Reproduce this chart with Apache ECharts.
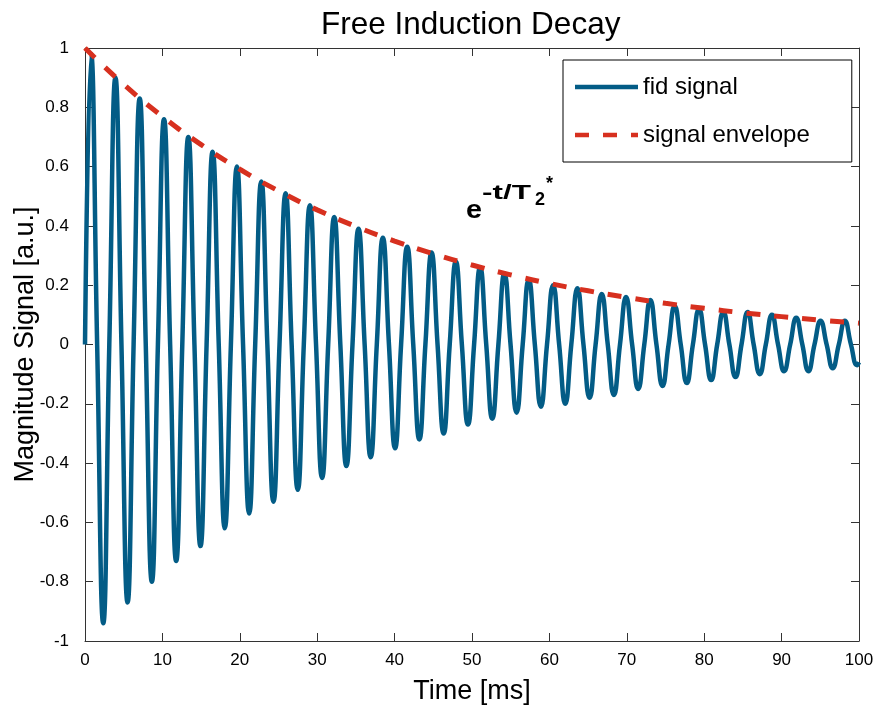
<!DOCTYPE html>
<html>
<head>
<meta charset="utf-8">
<script src="https://cdn.jsdelivr.net/npm/echarts@6/dist/echarts.min.js"></script>
<style>
html,body{margin:0;padding:0;background:#fff;}
#chart{width:877px;height:713px;}
</style>
</head>
<body>
<div id="chart"></div>
<script>
// ---- data ----
const fidTime = [
  0, 0.79, 1.57, 2.36,
  3.14, 3.93, 4.71, 5.50,
  6.28, 7.07, 7.85, 8.64,
  9.42, 10.21, 11.00, 11.78,
  12.57, 13.35, 14.14, 14.92,
  15.71, 16.49, 17.28, 18.06,
  18.85, 19.63, 20.42, 21.21,
  21.99, 22.78, 23.56, 24.35,
  25.13, 25.92, 26.70, 27.49,
  28.27, 29.06, 29.85, 30.63,
  31.42, 32.20, 32.99, 33.77,
  34.56, 35.34, 36.13, 36.91,
  37.70, 38.48, 39.27, 40.06,
  40.84, 41.63, 42.41, 43.20,
  43.98, 44.77, 45.55, 46.34,
  47.12, 47.91, 48.69, 49.48,
  50.27, 51.05, 51.84, 52.62,
  53.41, 54.19, 54.98, 55.76,
  56.55, 57.33, 58.12, 58.90,
  59.69, 60.48, 61.26, 62.05,
  62.83, 63.62, 64.40, 65.19,
  65.97, 66.76, 67.54, 68.33,
  69.12, 69.90, 70.69, 71.47,
  72.26, 73.04, 73.83, 74.61,
  75.40, 76.18, 76.97, 77.75,
  78.54, 79.33, 80.11, 80.90,
  81.68, 82.47, 83.25, 84.04,
  84.82, 85.61, 86.39, 87.18,
  87.96, 88.75, 89.54, 90.32,
  91.11, 91.89, 92.68, 93.46,
  94.25, 95.03, 95.82, 96.60,
  97.39, 98.17, 98.96, 99.75,
  100
];
const fidValue = [
  0, 0.98, 0, -0.94,
  0, 0.90, 0, -0.87,
  0, 0.83, 0, -0.80,
  0, 0.76, 0, -0.73,
  0, 0.70, 0, -0.68,
  0, 0.65, 0, -0.62,
  0, 0.60, 0, -0.57,
  0, 0.55, 0, -0.53,
  0, 0.51, 0, -0.49,
  0, 0.47, 0, -0.45,
  0, 0.43, 0, -0.41,
  0, 0.39, 0, -0.38,
  0, 0.36, 0, -0.35,
  0, 0.33, 0, -0.32,
  0, 0.31, 0, -0.30,
  0, 0.28, 0, -0.27,
  0, 0.26, 0, -0.25,
  0, 0.24, 0, -0.23,
  0, 0.22, 0, -0.21,
  0, 0.20, 0, -0.20,
  0, 0.19, 0, -0.18,
  0, 0.17, 0, -0.17,
  0, 0.16, 0, -0.15,
  0, 0.15, 0, -0.14,
  0, 0.13, 0, -0.13,
  0, 0.12, 0, -0.12,
  0, 0.11, 0, -0.11,
  0, 0.11, 0, -0.10,
  0, 0.10, 0, -0.09,
  0, 0.09, 0, -0.09,
  0, 0.08, 0, -0.08,
  0, 0.08, 0, -0.07,
  -0.06
];
const envTime  = [0, 5, 10, 15, 20, 25, 30, 35, 40, 45, 50, 55, 60, 65, 70, 75, 80, 85, 90, 95, 100];
const envValue = [1.00, 0.877, 0.769, 0.674, 0.591, 0.518, 0.454, 0.398, 0.349, 0.306, 0.268,
                  0.235, 0.206, 0.181, 0.159, 0.139, 0.122, 0.107, 0.094, 0.082, 0.072];
const seriesNames = ['fid signal', 'signal envelope'];
const titleText = 'Free Induction Decay';
const xName = 'Time [ms]';
const yName = 'Magnitude Signal [a.u.]';

// ---- chart ----
const FONT = '"Liberation Sans", Arial, Helvetica, sans-serif';
const BLUE = '#035c86';
const RED = '#d7301f';
const AXIS = '#333333';

const fidData = fidTime.map((t, i) => [t, fidValue[i]]);
const envData = envTime.map((t, i) => [t, envValue[i]]);

const chart = echarts.init(document.getElementById('chart'), null, {renderer: 'canvas'});

const baseX = {
  type: 'value', min: 0, max: 100, interval: 10,
  axisLine: {show: true, onZero: false, lineStyle: {color: AXIS, width: 1}},
  axisTick: {show: true, inside: true, length: 8, lineStyle: {color: AXIS}},
  splitLine: {show: false}
};
const baseY = {
  type: 'value', min: -1, max: 1, interval: 0.2,
  axisLine: {show: true, onZero: false, lineStyle: {color: AXIS, width: 1}},
  axisTick: {show: true, inside: true, length: 8, lineStyle: {color: AXIS}},
  splitLine: {show: false}
};

chart.setOption({
  animation: false,
  backgroundColor: '#ffffff',
  title: {
    text: titleText, left: 316, top: 4,
    textStyle: {fontFamily: FONT, fontSize: 31.5, fontWeight: 'normal', color: '#000'}
  },
  grid: {left: 85, right: 18, top: 48, bottom: 72, containLabel: false, outerBoundsMode: 'none'},
  legend: {
    left: 563, top: 60,
    orient: 'vertical',
    padding: [15, 42, 15, 12],
    itemGap: 24,
    itemWidth: 63, itemHeight: 4.5,
    symbolKeepAspect: false,
    backgroundColor: '#fff',
    borderColor: '#000', borderWidth: 1, borderRadius: 0,
    textStyle: {fontFamily: FONT, fontSize: 24, color: '#000'},
    data: [
      {name: seriesNames[0], icon: 'rect'},
      {name: seriesNames[1], icon: 'path://M0,0h14v5h-14zM28,0h14v5h-14zM56,0h7v5h-7z'}
    ]
  },
  xAxis: [
    Object.assign({}, baseX, {
      position: 'bottom',
      name: xName, nameLocation: 'middle', nameGap: 37,
      nameTextStyle: {fontFamily: FONT, fontSize: 27, color: '#000'},
      axisLabel: {show: true, margin: 11, fontFamily: FONT, fontSize: 17, color: '#000'}
    }),
    Object.assign({}, baseX, {position: 'top', axisLabel: {show: false}})
  ],
  yAxis: [
    Object.assign({}, baseY, {
      position: 'left',
      name: yName, nameLocation: 'middle', nameGap: 46, nameMoveOverlap: false,
      nameTextStyle: {fontFamily: FONT, fontSize: 27, color: '#000'},
      axisLabel: {show: true, margin: 16, fontFamily: FONT, fontSize: 17, color: '#000'}
    }),
    Object.assign({}, baseY, {position: 'right', axisLabel: {show: false}})
  ],
  series: [
    {
      name: seriesNames[0], type: 'line', xAxisIndex: 0, yAxisIndex: 0,
      data: fidData, smooth: 0.5, showSymbol: false, symbol: 'none',
      lineStyle: {color: BLUE, width: 4.5},
      itemStyle: {color: BLUE},
      clip: true
    },
    {
      name: seriesNames[1], type: 'line', xAxisIndex: 0, yAxisIndex: 0,
      data: envData, smooth: true, showSymbol: false, symbol: 'none',
      lineStyle: {color: RED, width: 5, type: [14, 14]},
      itemStyle: {color: RED},
      clip: true
    }
  ],
  graphic: [
    {type: 'text', x: 466, y: 211, scaleX: 1.15, style: {text: 'e', font: 'bold 25px ' + FONT, fill: '#000', textVerticalAlign: 'middle', verticalAlign: 'middle'}},
    {type: 'text', x: 482, y: 193, scaleX: 1.5, style: {text: '-t/T', font: 'bold 21px ' + FONT, fill: '#000', textVerticalAlign: 'middle', verticalAlign: 'middle'}},
    {type: 'text', x: 535, y: 200, style: {text: '2', font: 'bold 18px ' + FONT, fill: '#000', textVerticalAlign: 'middle', verticalAlign: 'middle'}},
    {type: 'text', x: 546, y: 184, style: {text: '*', font: 'bold 18px ' + FONT, fill: '#000', textVerticalAlign: 'middle', verticalAlign: 'middle'}}
  ]
});
</script>
</body>
</html>
